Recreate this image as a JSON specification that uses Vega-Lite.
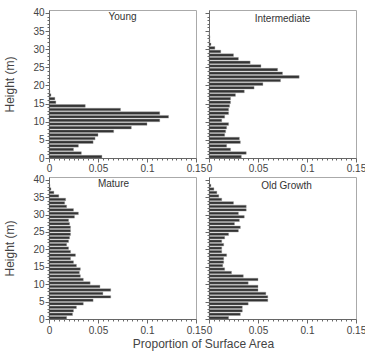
{
  "$schema": "https://vega.github.io/schema/vega-lite/v6.json",
  "padding": {"left": 2, "top": 7, "right": 5, "bottom": 5},
  "background": "white",
  "config": {
    "font": "Liberation Sans",
    "view": {"stroke": "#aaaaaa", "strokeWidth": 1},
    "title": {"fontSize": 10, "fontWeight": "normal", "color": "#333333", "font": "Liberation Sans", "offset": -14, "baseline": "middle", "frame": "group", "anchor": "middle"},
    "axis": {"labelFont": "Liberation Sans", "labelFontSize": 10, "labelColor": "#444444", "titleFont": "Liberation Sans", "titleFontSize": 12, "titleFontWeight": "normal", "titleColor": "#444444", "domainColor": "#666666", "tickColor": "#666666", "grid": false, "labelOverlap": false}
  },
  "datasets": {
    "hist": [
      {"stage": "Young", "h": 0, "p": 0.054}, {"stage": "Young", "h": 1, "p": 0.033}, {"stage": "Young", "h": 2, "p": 0.025}, {"stage": "Young", "h": 3, "p": 0.030}, {"stage": "Young", "h": 4, "p": 0.045}, {"stage": "Young", "h": 5, "p": 0.047}, {"stage": "Young", "h": 6, "p": 0.050}, {"stage": "Young", "h": 7, "p": 0.066}, {"stage": "Young", "h": 8, "p": 0.084}, {"stage": "Young", "h": 9, "p": 0.100}, {"stage": "Young", "h": 10, "p": 0.113}, {"stage": "Young", "h": 11, "p": 0.122}, {"stage": "Young", "h": 12, "p": 0.113}, {"stage": "Young", "h": 13, "p": 0.073}, {"stage": "Young", "h": 14, "p": 0.037}, {"stage": "Young", "h": 15, "p": 0.007}, {"stage": "Young", "h": 16, "p": 0.006}, {"stage": "Young", "h": 17, "p": 0.002}, {"stage": "Young", "h": 18, "p": 0.001},
      {"stage": "Intermediate", "h": 0, "p": 0.033}, {"stage": "Intermediate", "h": 1, "p": 0.038}, {"stage": "Intermediate", "h": 2, "p": 0.022}, {"stage": "Intermediate", "h": 3, "p": 0.018}, {"stage": "Intermediate", "h": 4, "p": 0.032}, {"stage": "Intermediate", "h": 5, "p": 0.031}, {"stage": "Intermediate", "h": 6, "p": 0.016}, {"stage": "Intermediate", "h": 7, "p": 0.017}, {"stage": "Intermediate", "h": 8, "p": 0.018}, {"stage": "Intermediate", "h": 9, "p": 0.020}, {"stage": "Intermediate", "h": 10, "p": 0.013}, {"stage": "Intermediate", "h": 11, "p": 0.016}, {"stage": "Intermediate", "h": 12, "p": 0.020}, {"stage": "Intermediate", "h": 13, "p": 0.020}, {"stage": "Intermediate", "h": 14, "p": 0.021}, {"stage": "Intermediate", "h": 15, "p": 0.022}, {"stage": "Intermediate", "h": 16, "p": 0.022}, {"stage": "Intermediate", "h": 17, "p": 0.027}, {"stage": "Intermediate", "h": 18, "p": 0.036}, {"stage": "Intermediate", "h": 19, "p": 0.046}, {"stage": "Intermediate", "h": 20, "p": 0.055}, {"stage": "Intermediate", "h": 21, "p": 0.073}, {"stage": "Intermediate", "h": 22, "p": 0.092}, {"stage": "Intermediate", "h": 23, "p": 0.075}, {"stage": "Intermediate", "h": 24, "p": 0.070}, {"stage": "Intermediate", "h": 25, "p": 0.053}, {"stage": "Intermediate", "h": 26, "p": 0.042}, {"stage": "Intermediate", "h": 27, "p": 0.030}, {"stage": "Intermediate", "h": 28, "p": 0.025}, {"stage": "Intermediate", "h": 29, "p": 0.012}, {"stage": "Intermediate", "h": 30, "p": 0.006}, {"stage": "Intermediate", "h": 31, "p": 0.002}, {"stage": "Intermediate", "h": 32, "p": 0.001}, {"stage": "Intermediate", "h": 33, "p": 0.001}, {"stage": "Intermediate", "h": 34, "p": 0.0005},
      {"stage": "Mature", "h": 0, "p": 0.018}, {"stage": "Mature", "h": 1, "p": 0.024}, {"stage": "Mature", "h": 2, "p": 0.025}, {"stage": "Mature", "h": 3, "p": 0.028}, {"stage": "Mature", "h": 4, "p": 0.035}, {"stage": "Mature", "h": 5, "p": 0.045}, {"stage": "Mature", "h": 6, "p": 0.063}, {"stage": "Mature", "h": 7, "p": 0.055}, {"stage": "Mature", "h": 8, "p": 0.063}, {"stage": "Mature", "h": 9, "p": 0.052}, {"stage": "Mature", "h": 10, "p": 0.042}, {"stage": "Mature", "h": 11, "p": 0.035}, {"stage": "Mature", "h": 12, "p": 0.032}, {"stage": "Mature", "h": 13, "p": 0.031}, {"stage": "Mature", "h": 14, "p": 0.032}, {"stage": "Mature", "h": 15, "p": 0.028}, {"stage": "Mature", "h": 16, "p": 0.025}, {"stage": "Mature", "h": 17, "p": 0.022}, {"stage": "Mature", "h": 18, "p": 0.027}, {"stage": "Mature", "h": 19, "p": 0.022}, {"stage": "Mature", "h": 20, "p": 0.020}, {"stage": "Mature", "h": 21, "p": 0.018}, {"stage": "Mature", "h": 22, "p": 0.020}, {"stage": "Mature", "h": 23, "p": 0.021}, {"stage": "Mature", "h": 24, "p": 0.022}, {"stage": "Mature", "h": 25, "p": 0.022}, {"stage": "Mature", "h": 26, "p": 0.022}, {"stage": "Mature", "h": 27, "p": 0.021}, {"stage": "Mature", "h": 28, "p": 0.020}, {"stage": "Mature", "h": 29, "p": 0.026}, {"stage": "Mature", "h": 30, "p": 0.030}, {"stage": "Mature", "h": 31, "p": 0.025}, {"stage": "Mature", "h": 32, "p": 0.018}, {"stage": "Mature", "h": 33, "p": 0.016}, {"stage": "Mature", "h": 34, "p": 0.017}, {"stage": "Mature", "h": 35, "p": 0.010}, {"stage": "Mature", "h": 36, "p": 0.005}, {"stage": "Mature", "h": 37, "p": 0.002}, {"stage": "Mature", "h": 38, "p": 0.001},
      {"stage": "Old Growth", "h": 0, "p": 0.020}, {"stage": "Old Growth", "h": 1, "p": 0.032}, {"stage": "Old Growth", "h": 2, "p": 0.034}, {"stage": "Old Growth", "h": 3, "p": 0.034}, {"stage": "Old Growth", "h": 4, "p": 0.040}, {"stage": "Old Growth", "h": 5, "p": 0.060}, {"stage": "Old Growth", "h": 6, "p": 0.060}, {"stage": "Old Growth", "h": 7, "p": 0.058}, {"stage": "Old Growth", "h": 8, "p": 0.050}, {"stage": "Old Growth", "h": 9, "p": 0.050}, {"stage": "Old Growth", "h": 10, "p": 0.040}, {"stage": "Old Growth", "h": 11, "p": 0.050}, {"stage": "Old Growth", "h": 12, "p": 0.035}, {"stage": "Old Growth", "h": 13, "p": 0.023}, {"stage": "Old Growth", "h": 14, "p": 0.016}, {"stage": "Old Growth", "h": 15, "p": 0.014}, {"stage": "Old Growth", "h": 16, "p": 0.015}, {"stage": "Old Growth", "h": 17, "p": 0.015}, {"stage": "Old Growth", "h": 18, "p": 0.018}, {"stage": "Old Growth", "h": 19, "p": 0.013}, {"stage": "Old Growth", "h": 20, "p": 0.013}, {"stage": "Old Growth", "h": 21, "p": 0.015}, {"stage": "Old Growth", "h": 22, "p": 0.013}, {"stage": "Old Growth", "h": 23, "p": 0.016}, {"stage": "Old Growth", "h": 24, "p": 0.020}, {"stage": "Old Growth", "h": 25, "p": 0.030}, {"stage": "Old Growth", "h": 26, "p": 0.032}, {"stage": "Old Growth", "h": 27, "p": 0.026}, {"stage": "Old Growth", "h": 28, "p": 0.031}, {"stage": "Old Growth", "h": 29, "p": 0.036}, {"stage": "Old Growth", "h": 30, "p": 0.030}, {"stage": "Old Growth", "h": 31, "p": 0.038}, {"stage": "Old Growth", "h": 32, "p": 0.038}, {"stage": "Old Growth", "h": 33, "p": 0.025}, {"stage": "Old Growth", "h": 34, "p": 0.013}, {"stage": "Old Growth", "h": 35, "p": 0.010}, {"stage": "Old Growth", "h": 36, "p": 0.008}, {"stage": "Old Growth", "h": 37, "p": 0.005}, {"stage": "Old Growth", "h": 38, "p": 0.002}
    ]
  },
  "data": {"name": "hist"},
  "bounds": "flush",
  "columns": 2,
  "spacing": {"row": 19, "column": 13},
  "concat": [
    {
      "width": 147, "height": 148,
      "title": {"text": "Young"},
      "transform": [{"filter": "datum.stage === 'Young'"}],
      "mark": {"type": "bar", "fill": "#333333", "stroke": "#9a9a9a", "strokeWidth": 0.4},
      "encoding": {
        "y": {"field": "h", "type": "quantitative", "bin": {"step": 1, "extent": [0, 41]}, "scale": {"domain": [0, 40.8], "nice": false, "zero": false},
          "axis": {"title": "Height (m)", "titleY": 74, "titleX": -33, "labelOverlap": false, "values": [0,1,2,3,4,5,6,7,8,9,10,11,12,13,14,15,16,17,18,19,20,21,22,23,24,25,26,27,28,29,30,31,32,33,34,35,36,37,38,39,40], "labelExpr": "datum.value % 5 === 0 ? datum.label : ''", "tickSize": {"condition": {"test": "datum.value % 5 === 0", "value": 4}, "value": 2}, "labelPadding": 1, "labelBaseline": "middle"}},
        "x": {"field": "p", "type": "quantitative", "scale": {"domain": [0, 0.15], "nice": false},
          "axis": {"title": null, "labelOverlap": false, "labelFlush": false, "values": [0,0.005,0.01,0.015,0.02,0.025,0.03,0.035,0.04,0.045,0.05,0.055,0.06,0.065,0.07,0.075,0.08,0.085,0.09,0.095,0.1,0.105,0.11,0.115,0.12,0.125,0.13,0.135,0.14,0.145,0.15], "labelExpr": "(datum.value === 0 || datum.value === 0.05 || datum.value === 0.1 || datum.value === 0.15) ? datum.label : ''", "format": "~g", "tickSize": {"condition": {"test": "datum.value === 0 || datum.value === 0.05 || datum.value === 0.1 || datum.value === 0.15", "value": 4}, "value": 2}, "labelPadding": 1}}
      }
    },
    {
      "width": 147, "height": 148,
      "title": {"text": "Intermediate"},
      "transform": [{"filter": "datum.stage === 'Intermediate'"}],
      "mark": {"type": "bar", "fill": "#333333", "stroke": "#9a9a9a", "strokeWidth": 0.4},
      "encoding": {
        "y": {"field": "h", "type": "quantitative", "bin": {"step": 1, "extent": [0, 41]}, "scale": {"domain": [0, 40.8], "nice": false, "zero": false},
          "axis": {"title": null, "values": [0,1,2,3,4,5,6,7,8,9,10,11,12,13,14,15,16,17,18,19,20,21,22,23,24,25,26,27,28,29,30,31,32,33,34,35,36,37,38,39,40], "labels": false, "tickSize": {"condition": {"test": "datum.value % 5 === 0", "value": 4}, "value": 2}}},
        "x": {"field": "p", "type": "quantitative", "scale": {"domain": [0, 0.15], "nice": false},
          "axis": {"title": null, "labelOverlap": false, "labelFlush": false, "values": [0,0.005,0.01,0.015,0.02,0.025,0.03,0.035,0.04,0.045,0.05,0.055,0.06,0.065,0.07,0.075,0.08,0.085,0.09,0.095,0.1,0.105,0.11,0.115,0.12,0.125,0.13,0.135,0.14,0.145,0.15], "labelExpr": "(datum.value === 0 || datum.value === 0.05 || datum.value === 0.1 || datum.value === 0.15) ? datum.label : ''", "format": "~g", "tickSize": {"condition": {"test": "datum.value === 0 || datum.value === 0.05 || datum.value === 0.1 || datum.value === 0.15", "value": 4}, "value": 2}, "labelPadding": 1}}
      }
    },
    {
      "width": 147, "height": 142,
      "title": {"text": "Mature", "dx": -9},
      "transform": [{"filter": "datum.stage === 'Mature'"}],
      "mark": {"type": "bar", "fill": "#333333", "stroke": "#9a9a9a", "strokeWidth": 0.4},
      "encoding": {
        "y": {"field": "h", "type": "quantitative", "bin": {"step": 1, "extent": [0, 41]}, "scale": {"domain": [0, 40.8], "nice": false, "zero": false},
          "axis": {"title": "Height (m)", "titleY": 71, "titleX": -33, "labelOverlap": false, "values": [0,1,2,3,4,5,6,7,8,9,10,11,12,13,14,15,16,17,18,19,20,21,22,23,24,25,26,27,28,29,30,31,32,33,34,35,36,37,38,39,40], "labelExpr": "datum.value % 5 === 0 ? datum.label : ''", "tickSize": {"condition": {"test": "datum.value % 5 === 0", "value": 4}, "value": 2}, "labelPadding": 1, "labelBaseline": "middle"}},
        "x": {"field": "p", "type": "quantitative", "scale": {"domain": [0, 0.15], "nice": false},
          "axis": {"title": "Proportion of Surface Area", "titleX": 154, "titleY": 19, "labelOverlap": false, "labelFlush": false, "values": [0,0.005,0.01,0.015,0.02,0.025,0.03,0.035,0.04,0.045,0.05,0.055,0.06,0.065,0.07,0.075,0.08,0.085,0.09,0.095,0.1,0.105,0.11,0.115,0.12,0.125,0.13,0.135,0.14,0.145,0.15], "labelExpr": "(datum.value === 0 || datum.value === 0.05 || datum.value === 0.1 || datum.value === 0.15) ? datum.label : ''", "format": "~g", "tickSize": {"condition": {"test": "datum.value === 0 || datum.value === 0.05 || datum.value === 0.1 || datum.value === 0.15", "value": 4}, "value": 2}, "labelPadding": 2}}
      }
    },
    {
      "width": 147, "height": 142,
      "title": {"text": "Old Growth", "dx": 4},
      "transform": [{"filter": "datum.stage === 'Old Growth'"}],
      "mark": {"type": "bar", "fill": "#333333", "stroke": "#9a9a9a", "strokeWidth": 0.4},
      "encoding": {
        "y": {"field": "h", "type": "quantitative", "bin": {"step": 1, "extent": [0, 41]}, "scale": {"domain": [0, 40.8], "nice": false, "zero": false},
          "axis": {"title": null, "values": [0,1,2,3,4,5,6,7,8,9,10,11,12,13,14,15,16,17,18,19,20,21,22,23,24,25,26,27,28,29,30,31,32,33,34,35,36,37,38,39,40], "labels": false, "tickSize": {"condition": {"test": "datum.value % 5 === 0", "value": 4}, "value": 2}}},
        "x": {"field": "p", "type": "quantitative", "scale": {"domain": [0, 0.15], "nice": false},
          "axis": {"title": null, "labelOverlap": false, "labelFlush": false, "values": [0,0.005,0.01,0.015,0.02,0.025,0.03,0.035,0.04,0.045,0.05,0.055,0.06,0.065,0.07,0.075,0.08,0.085,0.09,0.095,0.1,0.105,0.11,0.115,0.12,0.125,0.13,0.135,0.14,0.145,0.15], "labelExpr": "(datum.value === 0 || datum.value === 0.05 || datum.value === 0.1 || datum.value === 0.15) ? datum.label : ''", "format": "~g", "tickSize": {"condition": {"test": "datum.value === 0 || datum.value === 0.05 || datum.value === 0.1 || datum.value === 0.15", "value": 4}, "value": 2}, "labelPadding": 2}}
      }
    }
  ]
}
